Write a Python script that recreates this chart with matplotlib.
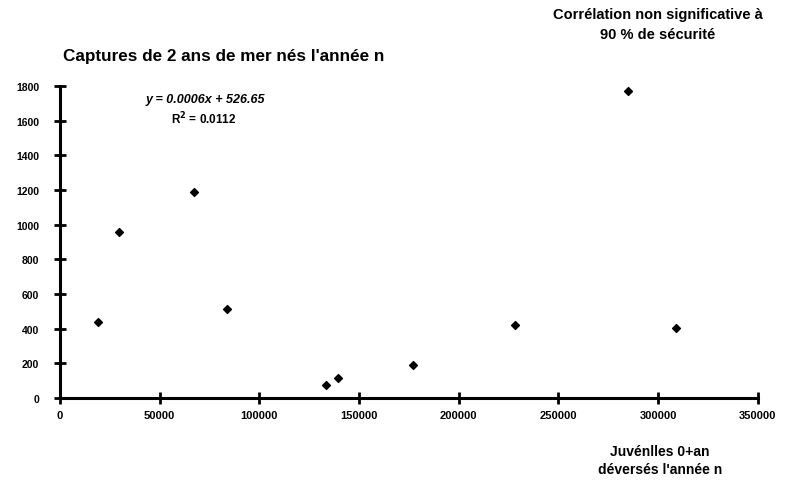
import matplotlib.pyplot as plt
import numpy as np

plt.rcParams["font.family"] = ["Liberation Sans", "DejaVu Sans"]
plt.rcParams["font.weight"] = "bold"

# juvenile releases (x) vs 2-sea-winter catches (y)
juveniles = [19200, 29500, 67400, 83900, 133600, 139400, 176800, 228300, 285100, 309100]
captures = [437, 959, 1190, 512, 77, 113, 192, 419, 1769, 402]
x_ticks = [0, 50000, 100000, 150000, 200000, 250000, 300000, 350000]
y_ticks = [0, 200, 400, 600, 800, 1000, 1200, 1400, 1600, 1800]

fig = plt.figure(figsize=(7.89, 4.81), dpi=100)
ax = fig.add_axes([0.076, 0.1705, 0.8846, 0.6486])

ax.scatter(juveniles, captures, marker="D", s=16, color="black", zorder=3)

ax.set_xlim(0, 350000)
ax.set_ylim(0, 1800)
ax.set_xticks(x_ticks)
ax.set_yticks(y_ticks)
ax.tick_params(axis="both", direction="inout", length=8, width=2)
ax.tick_params(axis="x", pad=5, labelsize=8)
ax.tick_params(axis="y", pad=11, labelsize=7.5)
for lab in ax.get_xticklabels() + ax.get_yticklabels():
    lab.set_fontweight("bold")

for side in ["top", "right"]:
    ax.spines[side].set_visible(False)
ax.spines["left"].set_linewidth(2.2)
ax.spines["bottom"].set_linewidth(2.2)

ax.text(0.208, 0.957, "y = 0.0006x + 526.65", transform=ax.transAxes, ha="center",
        va="center", fontsize=9, fontstyle="italic", fontweight="bold")
ax.text(0.206, 0.899, "R$^{2}$ = 0.0112", transform=ax.transAxes, ha="center",
        va="center", fontsize=8.5, fontweight="bold")

fig.text(0.283, 0.8815, "Captures de 2 ans de mer nés l'année n", ha="center",
         va="center", fontsize=12.3, fontweight="bold")
fig.text(0.834, 0.948, "Corrélation non significative à\n90 % de sécurité", ha="center",
         va="center", fontsize=10.5, fontweight="bold", linespacing=1.5)
fig.text(0.8365, 0.0416, "Juvénlles 0+an\ndéversés l'année n", ha="center",
         va="center", fontsize=10, fontweight="bold", linespacing=1.4)

fig.savefig("out.png", dpi=100)
